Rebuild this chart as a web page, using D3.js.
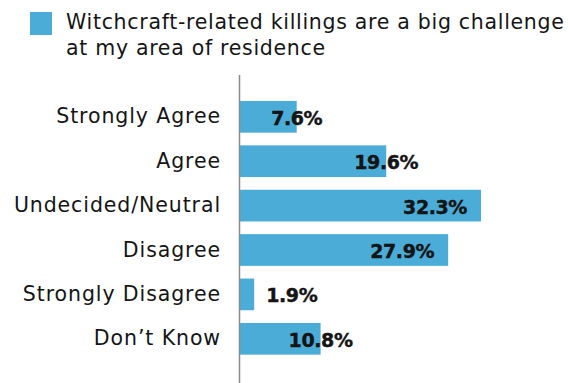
<!DOCTYPE html>
<html>
<head>
<meta charset="utf-8">
<script src="https://cdn.jsdelivr.net/npm/d3@7"></script>
<style>
  html, body { margin: 0; padding: 0; background: #fff; }
  svg { display: block; }
  text { font-family: "DejaVu Sans", sans-serif; fill: #151515; }
</style>
</head>
<body>
<svg id="chart" width="568" height="383"></svg>
<script>
// Survey responses
const categories = ["Strongly Agree", "Agree", "Undecided/Neutral", "Disagree", "Strongly Disagree", "Don\u2019t Know"];
const values = [7.6, 19.6, 32.3, 27.9, 1.9, 10.8];
const seriesName = ["Witchcraft-related killings are a big challenge", "at my area of residence"];

const W = 568, H = 383;
const barColor = "#4aacd7";
const svg = d3.select("#chart");

const x0 = 240;
const x = d3.scaleLinear().domain([0, 32.3]).range([x0, x0 + 241]);
const y = d3.scaleBand()
  .domain(categories)
  .range([94.6, 361])
  .paddingInner(0.286)
  .paddingOuter(0.143);

// Legend
svg.append("rect")
  .attr("x", 30).attr("y", 12).attr("width", 22).attr("height", 23)
  .attr("fill", barColor);
const legendText = svg.append("g")
  .attr("font-size", 20.5)
  .attr("letter-spacing", 0.7);
legendText.append("text").attr("x", 66).attr("y", 29).text(seriesName[0]);
legendText.append("text").attr("x", 66).attr("y", 55).text(seriesName[1]);

// Bars
svg.append("g").selectAll("rect")
  .data(values)
  .join("rect")
  .attr("x", x0)
  .attr("y", (d, i) => y(categories[i]))
  .attr("width", d => x(d) - x0)
  .attr("height", y.bandwidth())
  .attr("fill", barColor);

// Category axis
const axis = svg.append("g")
  .attr("transform", `translate(${x0},0)`)
  .call(d3.axisLeft(y).tickSize(0).tickPadding(19));
axis.select(".domain").remove();
axis.selectAll("text")
  .attr("font-size", 20.5)
  .attr("letter-spacing", 0.9)
  .attr("font-family", "\"DejaVu Sans\", sans-serif")
  .attr("fill", "#151515");
svg.append("line")
  .attr("x1", x0 - 0.5).attr("x2", x0 - 0.5)
  .attr("y1", 75).attr("y2", H)
  .attr("stroke", "#8a8a8a").attr("stroke-width", 1.5);

// Value labels
svg.append("g").selectAll("text")
  .data(values)
  .join("text")
  .attr("font-size", 19)
  .attr("font-weight", 700)
  .attr("letter-spacing", -0.4)
  .attr("fill", "#0d0d0d")
  .attr("stroke", "#0d0d0d")
  .attr("stroke-width", 0.4)
  .attr("dominant-baseline", "central")
  .attr("y", (d, i) => y(categories[i]) + y.bandwidth() / 2 + 1)
  .each(function (d) {
    const w = x(d) - x0;
    const t = d3.select(this);
    if (w < 40) t.attr("x", x(d) + 12).attr("text-anchor", "start");
    else if (w > 180) t.attr("x", x(d) - 14).attr("text-anchor", "end");
    else t.attr("x", x(d)).attr("text-anchor", "middle");
  })
  .text(d => d.toFixed(1) + "%");
</script>
</body>
</html>
